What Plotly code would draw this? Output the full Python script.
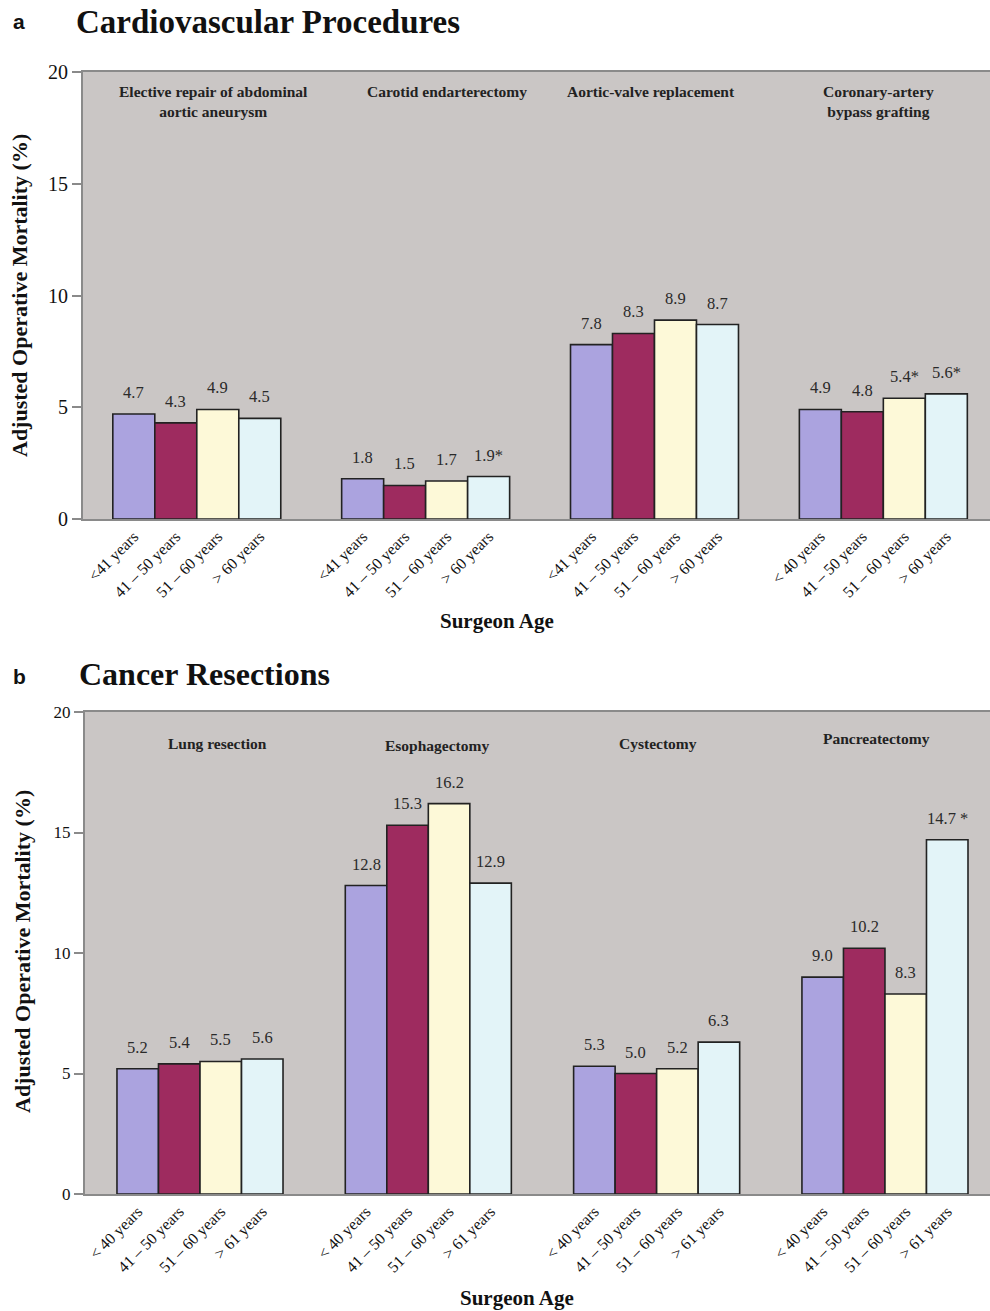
import plotly.graph_objects as go

# ---------------- data ----------------
cardio_procedures = ["Elective repair of abdominal<br>aortic aneurysm", "Carotid endarterectomy",
                     "Aortic-valve replacement", "Coronary-artery<br>bypass grafting"]
cardio_lt = [4.7, 1.8, 7.8, 4.9]
cardio_41_50 = [4.3, 1.5, 8.3, 4.8]
cardio_51_60 = [4.9, 1.7, 8.9, 5.4]
cardio_gt = [4.5, 1.9, 8.7, 5.6]
cardio_sig = [[False, False, False, False],   # per age bracket, per procedure
              [False, False, False, False],
              [False, False, False, True],
              [False, True, False, True]]
cardio_ticks = [
    ["<41 years", "41 \u2013 50 years", "51 \u2013 60 years", "> 60 years"],
    ["<41 years", "41 \u2013 50 years", "51 \u2013 60 years", "> 60 years"],
    ["<41 years", "41 \u2013 50 years", "51 \u2013 60 years", "> 60 years"],
    ["< 40 years", "41 \u2013 50 years", "51 \u2013 60 years", "> 60 years"],
]

cancer_procedures = ["Lung resection", "Esophagectomy", "Cystectomy", "Pancreatectomy"]
cancer_lt = [5.2, 12.8, 5.3, 9.0]
cancer_41_50 = [5.4, 15.3, 5.0, 10.2]
cancer_51_60 = [5.5, 16.2, 5.2, 8.3]
cancer_gt = [5.6, 12.9, 6.3, 14.7]
cancer_sig = [[False, False, False, False],
              [False, False, False, False],
              [False, False, False, False],
              [False, False, False, True]]
cancer_ticks = [["< 40 years", "41 \u2013 50 years", "51 \u2013 60 years", "> 61 years"]] * 4

y_ticks = [0, 5, 10, 15, 20]

colors = ["#ABA3DF", "#9E2B5F", "#FDF9D8", "#E3F4F8"]

W, H = 990, 1311
SERIF = "Liberation Serif, Times New Roman, serif"
SANS = "Liberation Sans, Arial, sans-serif"


def py(px):
    return 1 - px / H


def px_x(px):
    return px / W


fig = go.Figure()
ann = []

panels = [
    dict(series=[cardio_lt, cardio_41_50, cardio_51_60, cardio_gt], sig=cardio_sig, ticks=cardio_ticks,
         names=cardio_procedures, pitch=5.45, rng=[-1.21, 20.39], xd=[83 / W, 1.0], yd=[py(519), py(72)],
         xa="x", ya="y", tickfs=16, yfs=20, star_sep=""),
    dict(series=[cancer_lt, cancer_41_50, cancer_51_60, cancer_gt], sig=cancer_sig, ticks=cancer_ticks,
         names=cancer_procedures, pitch=5.5, rng=[-1.27, 20.53], xd=[85 / W, 1.0], yd=[py(1194), py(712)],
         xa="x2", ya="y2", tickfs=16, yfs=17, star_sep=" "),
]

for p in panels:
    tickvals, ticktext = [], []
    for g in range(4):
        for i in range(4):
            tickvals.append(g * p["pitch"] + i)
            ticktext.append(p["ticks"][g][i])
    for i, vals in enumerate(p["series"]):
        xs = [g * p["pitch"] + i for g in range(4)]
        fig.add_trace(go.Bar(
            x=xs, y=vals, width=1.0,
            marker=dict(color=colors[i], line=dict(color="#222", width=1.6)),
            xaxis=p["xa"], yaxis=p["ya"], showlegend=False, hoverinfo="skip"))
        for g, v in enumerate(vals):
            t = f"{v:.1f}"
            if p["sig"][i][g]:
                t += p["star_sep"] + "*"
            ann.append(dict(text=t, x=xs[g], y=v, xref=p["xa"], yref=p["ya"], xanchor="center",
                            yanchor="bottom", yshift=10, showarrow=False,
                            font=dict(family=SERIF, size=16.5, color="#2a2a2a")))
    p["tickvals"], p["ticktext"] = tickvals, ticktext

axcommon = dict(showgrid=False, zeroline=False, showline=True, linecolor="#8a8a8a", linewidth=2,
                automargin=False)

fig.update_layout(
    width=W, height=H, margin=dict(l=0, r=0, t=0, b=0, pad=0, autoexpand=False),
    paper_bgcolor="white", plot_bgcolor="#CAC6C5",
    font=dict(family=SERIF, color="#111"),
    xaxis=dict(domain=panels[0]["xd"], range=panels[0]["rng"], anchor="y", tickvals=panels[0]["tickvals"],
               ticktext=panels[0]["ticktext"], tickangle=-45, ticks="", mirror=True,
               tickfont=dict(family=SERIF, size=panels[0]["tickfs"], color="#111"), **axcommon),
    yaxis=dict(domain=panels[0]["yd"], range=[0, 20], anchor="x", tickvals=y_ticks, ticks="outside",
               ticklen=9, tickcolor="#8a8a8a", tickwidth=1.5, mirror=True,
               tickfont=dict(family=SERIF, size=panels[0]["yfs"], color="#111"), **axcommon),
    xaxis2=dict(domain=panels[1]["xd"], range=panels[1]["rng"], anchor="y2", tickvals=panels[1]["tickvals"],
                ticktext=panels[1]["ticktext"], tickangle=-45, ticks="", mirror=True,
                tickfont=dict(family=SERIF, size=panels[1]["tickfs"], color="#111"), **axcommon),
    yaxis2=dict(domain=panels[1]["yd"], range=[0, 20], anchor="x2", tickvals=y_ticks, ticks="outside",
                ticklen=9, tickcolor="#8a8a8a", tickwidth=1.5, mirror=True,
                tickfont=dict(family=SERIF, size=panels[1]["yfs"], color="#111"), **axcommon),
)

paper_ann = []
# panel letters and titles
paper_ann.append(dict(text="<b>a</b>", x=px_x(11), y=py(22), xanchor="left", yanchor="middle",
                      font=dict(family=SANS, size=21, color="#111")))
paper_ann.append(dict(text="<b>Cardiovascular Procedures</b>", x=px_x(74), y=py(22), xanchor="left",
                      yanchor="middle", font=dict(family=SERIF, size=33, color="#111")))
paper_ann.append(dict(text="<b>b</b>", x=px_x(11), y=py(676), xanchor="left", yanchor="middle",
                      font=dict(family=SANS, size=21, color="#111")))
paper_ann.append(dict(text="<b>Cancer Resections</b>", x=px_x(77), y=py(674), xanchor="left", yanchor="middle",
                      font=dict(family=SERIF, size=32, color="#111")))
# y axis titles
paper_ann.append(dict(text="<b>Adjusted Operative Mortality (%)</b>", x=px_x(20), y=py(296), textangle=-90,
                      xanchor="center", yanchor="middle", font=dict(family=SERIF, size=22, color="#111")))
paper_ann.append(dict(text="<b>Adjusted Operative Mortality (%)</b>", x=px_x(22), y=py(952), textangle=-90,
                      xanchor="center", yanchor="middle", font=dict(family=SERIF, size=22, color="#111")))
# x axis titles
paper_ann.append(dict(text="<b>Surgeon Age</b>", x=px_x(497), y=py(621), xanchor="center", yanchor="middle",
                      font=dict(family=SERIF, size=21, color="#111")))
paper_ann.append(dict(text="<b>Surgeon Age</b>", x=px_x(517), y=py(1298), xanchor="center", yanchor="middle",
                      font=dict(family=SERIF, size=21, color="#111")))
for a in paper_ann:
    a.update(xref="paper", yref="paper", showarrow=False)
ann.extend(paper_ann)

# procedure titles inside plots
shift_a = [17, 21, -3, -5]
shift_b = [18, 9, 1, -8]
for g, name in enumerate(cardio_procedures):
    ann.append(dict(text=f"<b>{name}</b>", x=g * panels[0]["pitch"] + 1.5, y=19.6, xref="x", yref="y",
                    xshift=shift_a[g], xanchor="center", yanchor="top", showarrow=False,
                    font=dict(family=SERIF, size=15.5, color="#222")))
ytit_b = [18.7, 18.6, 18.7, 18.9]
for g, name in enumerate(cancer_procedures):
    ann.append(dict(text=f"<b>{name}</b>", x=g * panels[1]["pitch"] + 1.5, y=ytit_b[g], xref="x2", yref="y2",
                    xshift=shift_b[g], xanchor="center", yanchor="middle", showarrow=False,
                    font=dict(family=SERIF, size=15.5, color="#222")))

fig.update_layout(annotations=ann)
fig.write_html("out.html", config={"displayModeBar": False},
               post_script="document.body.style.margin='0';")
